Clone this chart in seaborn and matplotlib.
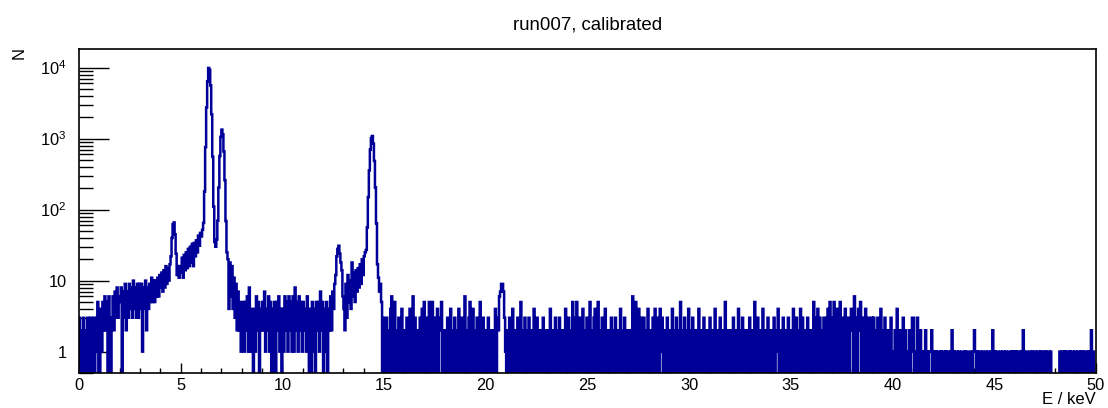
import numpy as np
import matplotlib
matplotlib.use("Agg")
import matplotlib.pyplot as plt
import seaborn as sns
from matplotlib.ticker import MultipleLocator, LogLocator, FuncFormatter, NullFormatter

# ---------------- data (counts per 0.05 keV bin) ----------------
E_MIN = 0.0
BIN_WIDTH = 0.05
TITLE = "run007, calibrated"
X_LABEL = "E / keV"
Y_LABEL = "N"

counts_00_05 = [
    3, 0, 2, 0, 3, 1, 0, 2, 3, 0, 1, 3, 0, 2, 3, 0, 1, 3, 5, 0,
    0, 4, 1, 5, 2, 6, 2, 5, 0, 6, 2, 0, 3, 6, 2, 7, 3, 8, 3, 6,
    5, 8, 0, 7, 3, 9, 2, 7, 3, 9, 4, 8, 3, 10, 4, 8, 3, 9, 3, 9,
    4, 9, 1, 8, 4, 10, 2, 8, 4, 9, 5, 11, 5, 10, 5, 10, 6, 11, 6, 12,
    8, 13, 7, 14, 8, 16, 9, 15, 10, 17, 22, 40, 62, 66, 45, 24, 12, 16, 11, 16,
]
counts_05_08 = [
    13, 21, 11, 23, 14, 25, 15, 28, 16, 30, 18, 33, 16, 34, 22, 37, 25, 43, 31, 47,
    42, 52, 65, 180, 760, 2750, 6400, 9900, 9300, 5600, 2200, 555, 110, 35, 30, 38, 70, 205, 570, 1060,
    1340, 1150, 660, 260, 69, 25, 20, 4, 18, 6, 16, 4, 11, 3, 9, 2, 7, 2, 5, 1,
]
counts_08_12 = [
    2, 5, 1, 5, 2, 6, 1, 8, 1, 4, 2, 0, 4, 1, 6, 2, 5, 0, 4, 2,
    5, 2, 7, 1, 4, 2, 6, 1, 5, 0, 4, 0, 5, 0, 5, 2, 6, 1, 4, 0,
    4, 1, 6, 2, 5, 1, 6, 2, 5, 1, 6, 1, 8, 2, 5, 1, 6, 2, 5, 1,
    5, 2, 4, 1, 6, 2, 0, 4, 0, 5, 1, 4, 0, 5, 2, 5, 1, 7, 2, 5,
]
counts_12_15 = [
    0, 4, 1, 5, 0, 4, 2, 6, 2, 7, 4, 9, 12, 22, 28, 31, 24, 18, 14, 6,
    4, 2, 9, 3, 12, 5, 10, 4, 18, 6, 13, 5, 14, 7, 15, 8, 17, 9, 20, 12,
    22, 25, 27, 56, 150, 357, 700, 1020, 1090, 850, 486, 205, 64, 17, 11, 7, 9, 5, 0, 3,
]
counts_15_20 = [
    2, 0, 3, 0, 2, 0, 4, 6, 0, 3, 5, 0, 2, 0, 3, 1, 0, 4, 0, 2,
    1, 0, 3, 0, 2, 4, 0, 2, 6, 0, 3, 0, 1, 2, 0, 3, 0, 4, 0, 5,
    0, 3, 0, 2, 5, 0, 1, 5, 0, 3, 0, 2, 4, 0, 2, 3, 5, 0, 2, 0,
    2, 0, 3, 1, 0, 4, 0, 2, 0, 3, 0, 2, 0, 4, 2, 0, 3, 0, 1, 6,
    0, 2, 0, 3, 5, 0, 2, 4, 0, 2, 0, 3, 1, 0, 5, 2, 0, 3, 0, 2,
]
counts_20_30 = [
    2, 0, 3, 0, 2, 0, 2, 1, 0, 4, 0, 3, 2, 6, 7, 9, 9, 7, 3, 1,
    0, 2, 0, 3, 0, 2, 4, 0, 2, 0, 2, 3, 0, 2, 5, 0, 2, 0, 3, 0,
    2, 0, 3, 0, 2, 1, 0, 4, 0, 2, 3, 0, 2, 0, 2, 0, 3, 0, 2, 1,
    0, 2, 0, 4, 1, 0, 2, 0, 3, 0, 2, 0, 3, 1, 0, 2, 0, 2, 4, 0,
    1, 3, 0, 2, 0, 5, 0, 3, 0, 5, 1, 0, 3, 0, 2, 4, 0, 2, 0, 3,
    0, 2, 5, 0, 2, 0, 3, 4, 0, 2, 5, 0, 2, 0, 3, 1, 0, 4, 0, 2,
    0, 2, 0, 3, 1, 0, 2, 3, 0, 2, 0, 2, 4, 0, 2, 0, 3, 0, 1, 2,
    0, 2, 0, 2, 6, 0, 3, 5, 0, 2, 4, 0, 3, 0, 2, 3, 0, 2, 0, 4,
    0, 2, 0, 2, 3, 0, 4, 2, 0, 3, 0, 4, 1, 3, 0, 2, 0, 2, 3, 0,
    2, 0, 2, 4, 0, 2, 0, 3, 0, 2, 0, 5, 2, 0, 2, 3, 0, 2, 0, 4,
]
counts_30_40 = [
    0, 2, 0, 3, 1, 0, 2, 0, 2, 4, 0, 2, 0, 2, 3, 0, 2, 1, 0, 2,
    3, 0, 2, 0, 2, 4, 0, 2, 0, 2, 3, 0, 2, 0, 2, 5, 0, 2, 0, 2,
    0, 2, 0, 3, 1, 0, 2, 0, 4, 0, 2, 0, 3, 1, 0, 2, 0, 2, 0, 3,
    0, 2, 0, 2, 5, 0, 2, 3, 0, 2, 0, 2, 4, 0, 2, 0, 2, 3, 0, 2,
    2, 0, 2, 3, 0, 1, 2, 4, 0, 2, 0, 2, 3, 0, 2, 0, 2, 3, 0, 2,
    0, 2, 4, 0, 2, 3, 0, 2, 0, 4, 0, 3, 0, 2, 0, 2, 3, 0, 2, 0,
    2, 0, 5, 3, 0, 2, 4, 0, 3, 0, 2, 0, 3, 2, 0, 3, 4, 0, 5, 3,
    0, 3, 5, 0, 2, 4, 0, 3, 5, 0, 2, 3, 0, 4, 2, 0, 3, 0, 2, 4,
    2, 0, 6, 0, 3, 0, 4, 2, 5, 0, 3, 2, 0, 4, 0, 2, 3, 0, 2, 3,
    0, 3, 0, 2, 0, 3, 0, 2, 4, 0, 2, 0, 3, 0, 2, 1, 0, 2, 3, 0,
]
counts_40_50 = [
    1, 0, 2, 0, 4, 0, 2, 1, 0, 2, 3, 0, 2, 0, 1, 0, 2, 0, 1, 3,
    3, 0, 1, 0, 3, 0, 1, 2, 0, 1, 0, 1, 2, 0, 1, 0, 1, 1, 2, 0,
    1, 0, 1, 0, 1, 1, 0, 1, 0, 1, 1, 0, 1, 0, 1, 1, 0, 1, 2, 0,
    1, 0, 1, 1, 0, 1, 0, 0, 1, 1, 0, 1, 0, 1, 1, 0, 0, 1, 0, 1,
    2, 1, 0, 1, 0, 1, 1, 0, 1, 0, 0, 1, 0, 1, 1, 0, 1, 0, 2, 0,
    1, 0, 1, 1, 0, 0, 1, 0, 1, 1, 0, 1, 0, 0, 1, 1, 0, 1, 0, 1,
    0, 1, 0, 1, 1, 0, 1, 0, 2, 1, 0, 1, 1, 0, 0, 1, 0, 1, 0, 1,
    1, 0, 1, 1, 0, 1, 0, 1, 1, 0, 1, 0, 1, 1, 0, 1, 0, 0, 0, 0,
    0, 0, 0, 0, 1, 0, 1, 1, 0, 1, 0, 1, 1, 0, 1, 0, 1, 1, 0, 1,
    1, 0, 1, 1, 0, 1, 0, 1, 0, 1, 1, 0, 1, 0, 1, 2, 0, 1, 0, 0,
]

counts = np.array(counts_00_05 + counts_05_08 + counts_08_12 + counts_12_15
                  + counts_15_20 + counts_20_30 + counts_30_40 + counts_40_50, dtype=float)
edges = E_MIN + BIN_WIDTH * np.arange(len(counts) + 1)

# empty bins drawn down to the bottom of the frame (as ROOT does on a log axis)
FLOOR = 1e-2
y_draw = np.where(counts > 0, counts, FLOOR)
y_draw = np.append(y_draw, y_draw[-1])

# ---------------- style ----------------
sns.set_style("white")
plt.rcParams["font.family"] = ["Liberation Sans", "DejaVu Sans"]
plt.rcParams["mathtext.fontset"] = "custom"
plt.rcParams["mathtext.rm"] = "Liberation Sans"
plt.rcParams["mathtext.it"] = "Liberation Sans:italic"
plt.rcParams["mathtext.bf"] = "Liberation Sans:bold"
plt.rcParams["text.color"] = "black"
plt.rcParams["axes.labelcolor"] = "black"
plt.rcParams["xtick.color"] = "black"
plt.rcParams["ytick.color"] = "black"
plt.rcParams["path.simplify"] = False

LINE_COLOR = "#000099"

fig = plt.figure(figsize=(11.08, 4.08), dpi=100)
ax = fig.add_axes([79 / 1108, 1 - 373 / 408, (1096 - 79) / 1108, (373 - 49) / 408])

sns.lineplot(x=edges, y=y_draw, drawstyle="steps-post", color=LINE_COLOR,
             linewidth=1.8, estimator=None, sort=False, ax=ax,
             solid_joinstyle="miter")

ax.set_yscale("log")
ax.set_xlim(0, 50)
ax.set_ylim(0.5, 1.83e4)

for s in ax.spines.values():
    s.set_color("black")
    s.set_linewidth(1.2)
    s.set_zorder(5)

ax.xaxis.set_major_locator(MultipleLocator(5))
ax.xaxis.set_minor_locator(MultipleLocator(1))
ax.yaxis.set_major_locator(LogLocator(base=10, numticks=20))
ax.yaxis.set_minor_locator(LogLocator(base=10, subs=np.arange(2, 10), numticks=20))
ax.yaxis.set_minor_formatter(NullFormatter())


def ylab(v, pos):
    if abs(v - 1) < 1e-9:
        return "1"
    if abs(v - 10) < 1e-9:
        return "10"
    return r"$10^{%d}$" % int(round(np.log10(v)))


ax.yaxis.set_major_formatter(FuncFormatter(ylab))

ax.tick_params(axis="x", which="major", direction="in", length=7.2, width=1.0,
               top=False, bottom=True, labelsize=11.8, pad=3.5, colors="black")
ax.tick_params(axis="x", which="minor", direction="in", length=3.6, width=1.0,
               top=False, bottom=True, colors="black")
ax.tick_params(axis="y", which="major", direction="in", length=21.6, width=1.0,
               left=True, right=False, labelsize=11.8, pad=9, colors="black")
ax.tick_params(axis="y", which="minor", direction="in", length=10.3, width=1.0,
               left=True, right=False, colors="black")
ax.set_xlabel("")
ax.set_ylabel("")

fig.text(587.5 / 1108, 1 - 30 / 408, TITLE, ha="center", va="baseline", fontsize=13.4, color="black")
fig.text(1096 / 1108, 1 - 404 / 408, X_LABEL, ha="right", va="baseline", fontsize=12, color="black")
fig.text(19 / 1108, 1 - 53 / 408, Y_LABEL, ha="center", va="center", rotation=90, fontsize=12, color="black")

fig.savefig("out.png", dpi=100, facecolor="white")
